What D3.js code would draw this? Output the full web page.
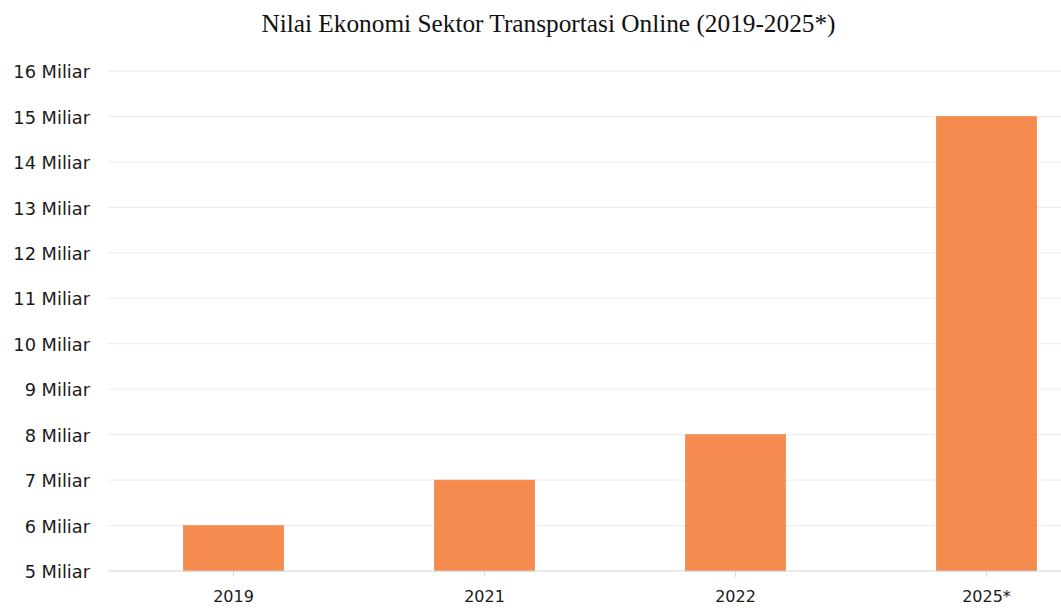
<!DOCTYPE html>
<html>
<head>
<meta charset="utf-8">
<script src="https://cdn.jsdelivr.net/npm/d3@7/dist/d3.min.js"></script>
<style>
  html, body { margin: 0; padding: 0; background: #fff; }
  svg { display: block; }
</style>
</head>
<body>
<svg id="chart" width="1061" height="608"></svg>
<script>
// Economic value of the online transportation sector (in billions, "Miliar")
const years = ["2019", "2021", "2022", "2025*"];
const values = [6, 7, 8, 15];
const yTicks = [5, 6, 7, 8, 9, 10, 11, 12, 13, 14, 15, 16];
const titleText = "Nilai Ekonomi Sektor Transportasi Online (2019-2025*)";

const width = 1061, height = 608;
const svg = d3.select("#chart");

const x = d3.scaleBand()
  .domain(years)
  .range([108, 1112])
  .paddingInner(0.6)
  .paddingOuter(0.3);

const y = d3.scaleLinear()
  .domain([5, 16])
  .range([571, 71]);

const plot = svg.append("g");

// horizontal gridlines
plot.selectAll("line.grid")
  .data(yTicks.filter(d => d !== 5))
  .join("line")
  .attr("class", "grid")
  .attr("x1", 108).attr("x2", width)
  .attr("y1", d => y(d)).attr("y2", d => y(d))
  .attr("stroke", "#ececec")
  .attr("stroke-width", 1);

// bars
plot.selectAll("rect.bar")
  .data(years.map((yr, i) => ({ yr, v: values[i] })))
  .join("rect")
  .attr("class", "bar")
  .attr("x", d => x(d.yr))
  .attr("width", x.bandwidth())
  .attr("y", d => y(d.v))
  .attr("height", d => y(5) - y(d.v))
  .attr("fill", "#f58b4e")
  .attr("stroke", "#f0894c")
  .attr("stroke-width", 0.6);

// x axis
const xAxis = svg.append("g")
  .attr("transform", `translate(0,${y(5)})`)
  .call(d3.axisBottom(x).tickSize(6).tickSizeOuter(0).tickPadding(14));
xAxis.select(".domain").remove();
xAxis.append("line")
  .attr("x1", 108).attr("x2", width)
  .attr("stroke", "#cfd3d8").attr("stroke-width", 1);
xAxis.selectAll(".tick line").attr("stroke", "#d5d8dc");
xAxis.selectAll(".tick text")
  .attr("fill", "#1a1a1a")
  .style("font-family", "'DejaVu Sans', Verdana, sans-serif")
  .style("font-size", "16px");

// y axis labels
const yAxis = svg.append("g")
  .attr("transform", "translate(90,1)")
  .call(d3.axisLeft(y).tickValues(yTicks).tickSize(0).tickPadding(0)
    .tickFormat(d => d + " Miliar"));
yAxis.select(".domain").remove();
yAxis.selectAll(".tick text")
  .attr("fill", "#1a1a1a")
  .style("font-family", "'DejaVu Sans', Verdana, sans-serif")
  .style("font-size", "17.8px");

// title
svg.append("text")
  .attr("x", 548.5)
  .attr("y", 32)
  .attr("text-anchor", "middle")
  .attr("fill", "#111")
  .style("font-family", "'Liberation Serif', 'Times New Roman', serif")
  .style("font-size", "25.3px")
  .text(titleText);
</script>
</body>
</html>
